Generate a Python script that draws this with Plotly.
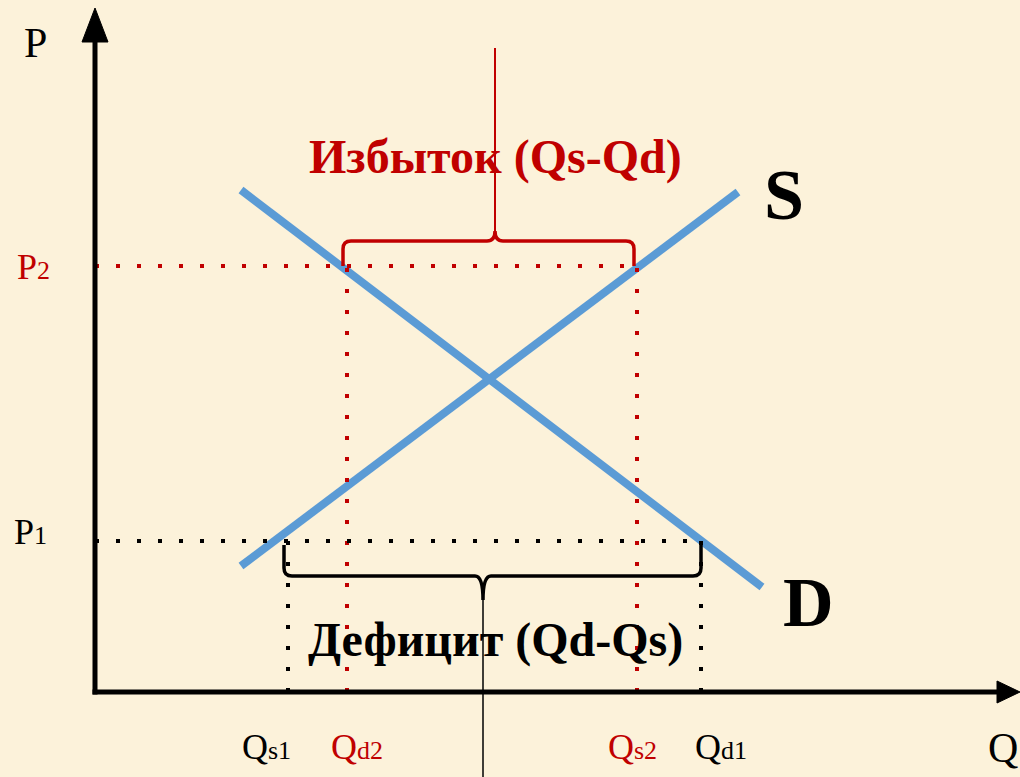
import plotly.graph_objects as go

# quantities on the Q axis and prices on the P axis (chart units)
SUB = "<span style='font-size:26px'>{}</span>"
q_names = ["Q" + SUB.format("s1"), "Q" + SUB.format("d2"),
           "Q" + SUB.format("s2"), "Q" + SUB.format("d1")]
q_vals = [193, 252, 542, 606]
p_names = ["P" + SUB.format("1"), "P" + SUB.format("2")]
p_vals = [151, 426]

# supply and demand lines (two end points each)
supply_q = [146, 643]
supply_p = [126, 500]
demand_q = [146, 667]
demand_p = [502, 105]

RED = "#C00000"
BLUE = "#5B9BD5"
BG = "#FCF2DA"
FONT = "Liberation Serif"

qs1, qd2, qs2, qd1 = q_vals
p1, p2 = p_vals

fig = go.Figure()

# S and D curves
fig.add_trace(go.Scatter(x=supply_q, y=supply_p, mode="lines",
                         line=dict(color=BLUE, width=8), hoverinfo="skip"))
fig.add_trace(go.Scatter(x=demand_q, y=demand_p, mode="lines",
                         line=dict(color=BLUE, width=8), hoverinfo="skip"))

# dotted guide lines
dots = "4px,17px"
guides = [
    ([0, qs2], [p2, p2], RED),
    ([qd2, qd2], [0, p2], RED),
    ([qs2, qs2], [0, p2], RED),
    ([0, qd1], [p1, p1], "black"),
    ([qs1, qs1], [0, p1], "black"),
    ([qd1, qd1], [0, p1], "black"),
]
for gx, gy, col in guides:
    fig.add_trace(go.Scatter(x=gx, y=gy, mode="lines",
                             line=dict(color=col, width=4, dash=dots),
                             hoverinfo="skip"))


def brace(xl, xr, xm, y_end, y_bar, y_tip, r=8):
    # curly brace between xl and xr, arms at y_end, bar at y_bar, tip at y_tip
    s = 1 if y_bar > y_end else -1
    return (f"M {xl},{y_end} L {xl},{y_bar - s * r} Q {xl},{y_bar} {xl + r},{y_bar} "
            f"L {xm - r},{y_bar} Q {xm},{y_bar} {xm},{y_tip} "
            f"Q {xm},{y_bar} {xm + r},{y_bar} L {xr - r},{y_bar} "
            f"Q {xr},{y_bar} {xr},{y_bar - s * r} L {xr},{y_end}")


shapes = []
# surplus brace (top, red)
shapes.append(dict(type="path", xref="x", yref="y",
                   path=brace(qd2 - 4, qs2 - 3, 400, p2, p2 + 25, p2 + 35),
                   line=dict(color=RED, width=3.5)))
shapes.append(dict(type="line", xref="x", yref="y", x0=400, x1=400,
                   y0=p2 + 35, y1=644, line=dict(color=RED, width=2)))
# shortage brace (bottom, black)
shapes.append(dict(type="path", xref="x", yref="y",
                   path=brace(qs1 - 4, qd1, 388, p1 - 4, p1 - 35, p1 - 59),
                   line=dict(color="black", width=3.5)))
shapes.append(dict(type="line", xref="x", yref="y", x0=388, x1=388,
                   y0=p1 - 59, y1=-90, line=dict(color="black", width=1.5)))

# axes with arrow heads
shapes.append(dict(type="line", xref="x", yref="y", x0=0, x1=0, y0=-2.5, y1=652,
                   line=dict(color="black", width=5)))
shapes.append(dict(type="path", xref="x", yref="y",
                   path="M -13,650 L 13,650 L 0,684 Z",
                   fillcolor="black", line=dict(color="black", width=1)))
shapes.append(dict(type="line", xref="x", yref="y", x0=-2.5, x1=904, y0=0, y1=0,
                   line=dict(color="black", width=5)))
shapes.append(dict(type="path", xref="x", yref="y",
                   path="M 902,11 L 902,-11 L 925,0 Z",
                   fillcolor="black", line=dict(color="black", width=1)))

annotations = []


def label(x, y, text, size, color="black", bold=False):
    if bold:
        text = f"<b>{text}</b>"
    annotations.append(dict(x=x, y=y, xref="x", yref="y", text=text, showarrow=False,
                            font=dict(family=FONT, size=size, color=color),
                            xanchor="center", yanchor="middle"))


label(-60, 649, "P", 42)
label(908, -56, "Q", 42)
label(-62, 425, p_names[1], 36, RED)
label(-65, 160, p_names[0], 36)

q_dx = [-22, 10, -5, 20]
q_col = ["black", RED, RED, "black"]
for name, qv, dx, col in zip(q_names, q_vals, q_dx, q_col):
    label(qv + dx, -55, name, 36, col)

label(400, 535, "Избыток (Qs-Qd)", 48, RED, bold=True)
label(400, 52, "Дефицит (Qd-Qs)", 48, bold=True)
label(689, 497, "S", 72, bold=True)
label(713, 90, "D", 70, bold=True)

fig.update_layout(
    width=1020, height=777, autosize=False,
    margin=dict(l=0, r=0, t=0, b=0),
    paper_bgcolor=BG, plot_bgcolor=BG,
    showlegend=False,
    shapes=shapes, annotations=annotations,
    xaxis=dict(range=[-95, 925], showgrid=False, zeroline=False,
               showticklabels=False, fixedrange=True),
    yaxis=dict(range=[-85, 692], showgrid=False, zeroline=False,
               showticklabels=False, fixedrange=True),
)

# drop the page's default body margin so the figure sits at the window corner
fig.write_html("out.html", config=dict(displayModeBar=False),
               post_script="document.body.style.margin='0';"
                           "document.body.style.background='" + BG + "';")
